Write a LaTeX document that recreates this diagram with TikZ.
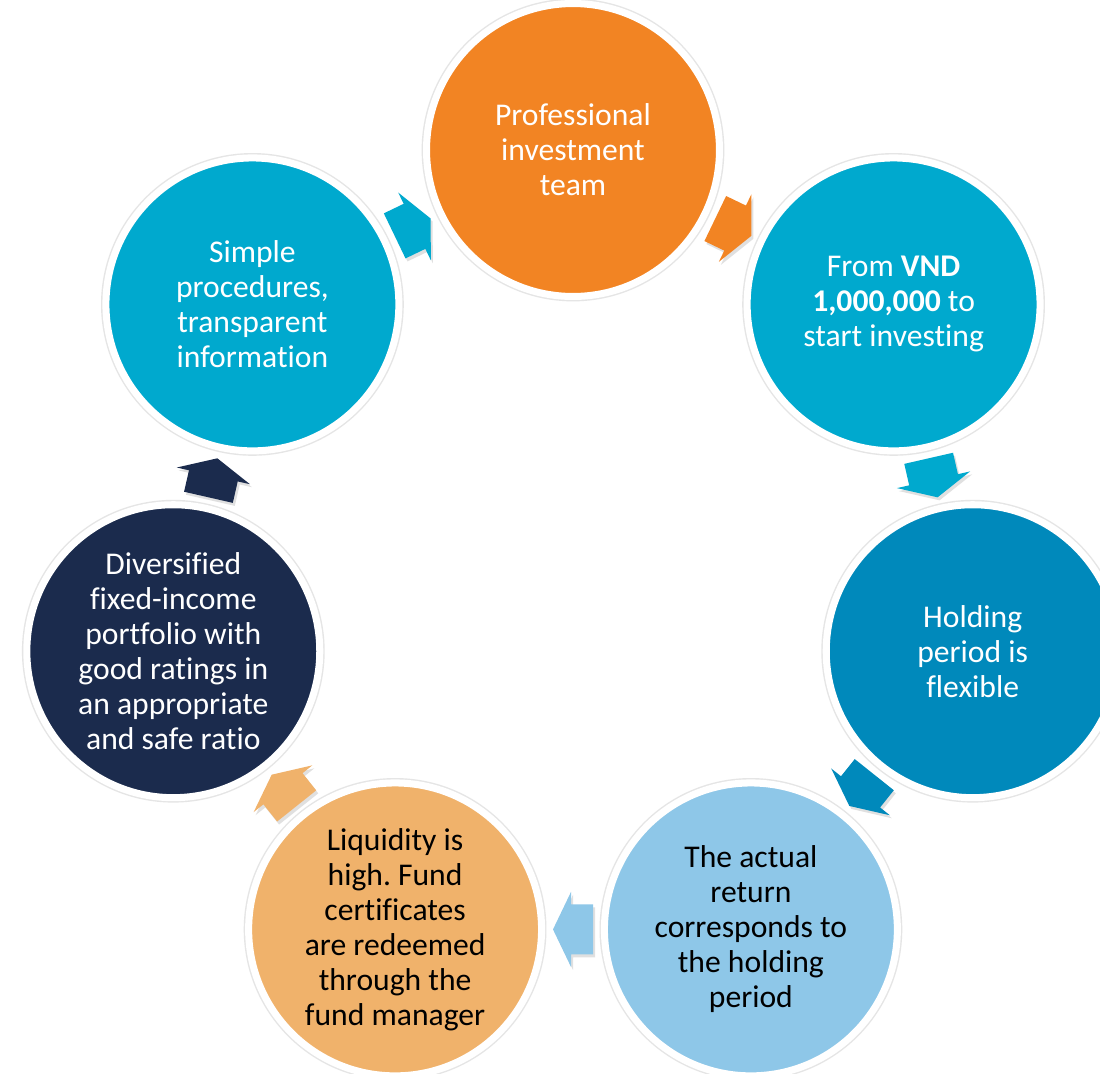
\documentclass[tikz,border=0pt]{standalone}
\usepackage{fontspec}
\setmainfont[Ligatures=NoCommon]{Carlito}
\frenchspacing
\definecolor{corange}{HTML}{F28423}
\definecolor{ccyan}{HTML}{00A9CE}
\definecolor{cdblue}{HTML}{0089BB}
\definecolor{clblue}{HTML}{8EC7E8}
\definecolor{clorange}{HTML}{F0B26B}
\definecolor{cnavy}{HTML}{1B2B4D}
\newcommand{\flowarrow}[4]{%
  \fill[black!12, shift={(#1+2,#2+3)}, rotate=#3] (-20,-25) -- (2,-25) -- (2,-37.5) -- (20,0) -- (2,37.5) -- (2,25) -- (-20,25) -- cycle;
  \fill[#4, shift={(#1,#2)}, rotate=#3] (-20,-25) -- (2,-25) -- (2,-37.5) -- (20,0) -- (2,37.5) -- (2,25) -- (-20,25) -- cycle;}
\tikzset{
  bubble/.style={circle, minimum size=5.86cm, inner sep=0pt, fill=#1, draw=white, line width=4pt,
    preaction={draw=black!10, line width=5.6pt},
    align=center, font=\fontsize{18}{19.9}\selectfont, text=white},
  darktext/.style={text=black}
}
\begin{document}
\begin{tikzpicture}[x=0.02cm, y=-0.02cm]
\useasboundingbox[fill=white] (0,0) rectangle (1100,1073);
\node[bubble=corange] (c1) at (573,150) {Professional\\investment\\team};
\node[bubble=ccyan] (c2) at (893.6,304.4) {From \textbf{VND}\\\textbf{1,000,000} to\\start investing};
\node[bubble=cdblue] (c3) at (972.7,651.2) {Holding\\period is\\flexible};
\node[bubble=clblue, darktext] (c4) at (750.9,929.4) {The actual\\return\\corresponds to\\the holding\\period};
\node[bubble=clorange, darktext] (c5) at (395.1,929.4) {Liquidity is\\high. Fund\\certificates\\are redeemed\\through the\\fund manager};
\node[bubble=cnavy] (c6) at (173.3,651.2) {Diversified\\fixed-income\\portfolio with\\good ratings in\\an appropriate\\and safe ratio};
\node[bubble=ccyan] (c7) at (252.4,304.4) {Simple\\procedures,\\transparent\\information};
\flowarrow{733.3}{227.2}{-25.71}{corange}
\flowarrow{933.1}{477.8}{-77.14}{ccyan}
\flowarrow{861.8}{790.3}{-128.57}{cdblue}
\flowarrow{573}{929.4}{-180}{clblue}
\flowarrow{284.2}{790.3}{128.57}{clorange}
\flowarrow{212.9}{477.8}{77.14}{cnavy}
\flowarrow{412.7}{227.2}{25.71}{ccyan}
\end{tikzpicture}
\end{document}
